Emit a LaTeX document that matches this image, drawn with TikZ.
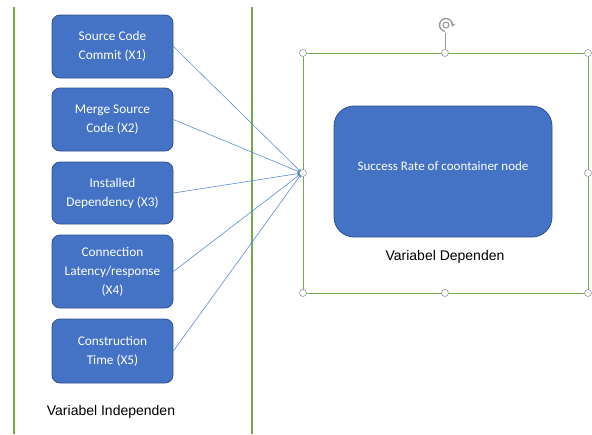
\documentclass[tikz,border=0pt]{standalone}
\usepackage{fontspec}
\setmainfont{Carlito}
\newfontfamily\arialf{Liberation Sans}
\usetikzlibrary{arrows.meta}
\definecolor{boxblue}{HTML}{4472C4}
\definecolor{boxedge}{HTML}{2F528F}
\definecolor{linkblue}{HTML}{5B8BD9}
\definecolor{grn}{HTML}{70AD47}
\definecolor{hgray}{HTML}{9A9A9A}
\begin{document}
\begin{tikzpicture}[x=1pt,y=-1pt,
  varbox/.style={draw=boxedge,fill=boxblue,rounded corners=8pt,line width=0.8pt,
    minimum width=121pt,text=white,align=center,inner sep=2pt,
    font=\fontsize{13.3}{19}\selectfont},
  link/.style={draw=linkblue,line width=0.6pt,-{Stealth[length=5pt,width=4pt]}},
  handle/.style={circle,draw=hgray,fill=white,line width=0.6pt,minimum size=7pt,inner sep=0pt},
  lbl/.style={font=\arialf\fontsize{14}{16}\selectfont,text=black}]
\useasboundingbox (0,0) rectangle (592,434);
% green separator lines
\draw[grn,line width=1.2pt] (14,7) -- (14,434);
\draw[grn,line width=1.2pt] (252,7) -- (252,434);
% independent variable boxes
\node[varbox,minimum height=63pt] (x1) at (112.5,46.5) {Source Code\\Commit (X1)};
\node[varbox,minimum height=63pt] (x2) at (112.5,119.5) {Merge Source\\Code (X2)};
\node[varbox,minimum height=62pt] (x3) at (112.5,193) {Installed\\Dependency (X3)};
\node[varbox,minimum height=73pt] (x4) at (112.5,271.5) {Connection\\Latency/response\\(X4)};
\node[varbox,minimum height=64pt] (x5) at (112.5,351) {Construction\\Time (X5)};
\node[lbl] (indep) at (111,412) {Variabel Independen};
% selection frame
\draw[grn,line width=0.9pt] (303,53) rectangle (588,293);
\coordinate (hub) at (302,173);
\draw[hgray,line width=0.7pt] (445,33) -- (445,53);
% dependent box
\node[varbox,minimum width=218pt,minimum height=131pt,rounded corners=20pt] (y) at (443,171.5) {};
\node[text=white,font=\fontsize{13}{15}\selectfont] (ytxt) at (443,166) {Success Rate of coontainer node};
\node[lbl] (dep) at (445,257) {Variabel Dependen};
% connectors
\foreach \n in {x1,x2,x3,x4,x5} \draw[link] (\n.east) -- (hub);
% handles
\foreach \p/\q in {303/53,445/53,588/53,303/173,588/173,303/293,445/293,588/293}
  \node[handle] at (\p,\q) {};
% rotation handle icon
\draw[hgray,line width=1.4pt,-{Stealth[length=3.5pt,width=5pt]}] (446,25) ++(100:6.5) arc[start angle=100,end angle=375,radius=6.5];
\draw[hgray,line width=1.1pt] (446,25) circle (3);
\end{tikzpicture}
\end{document}
